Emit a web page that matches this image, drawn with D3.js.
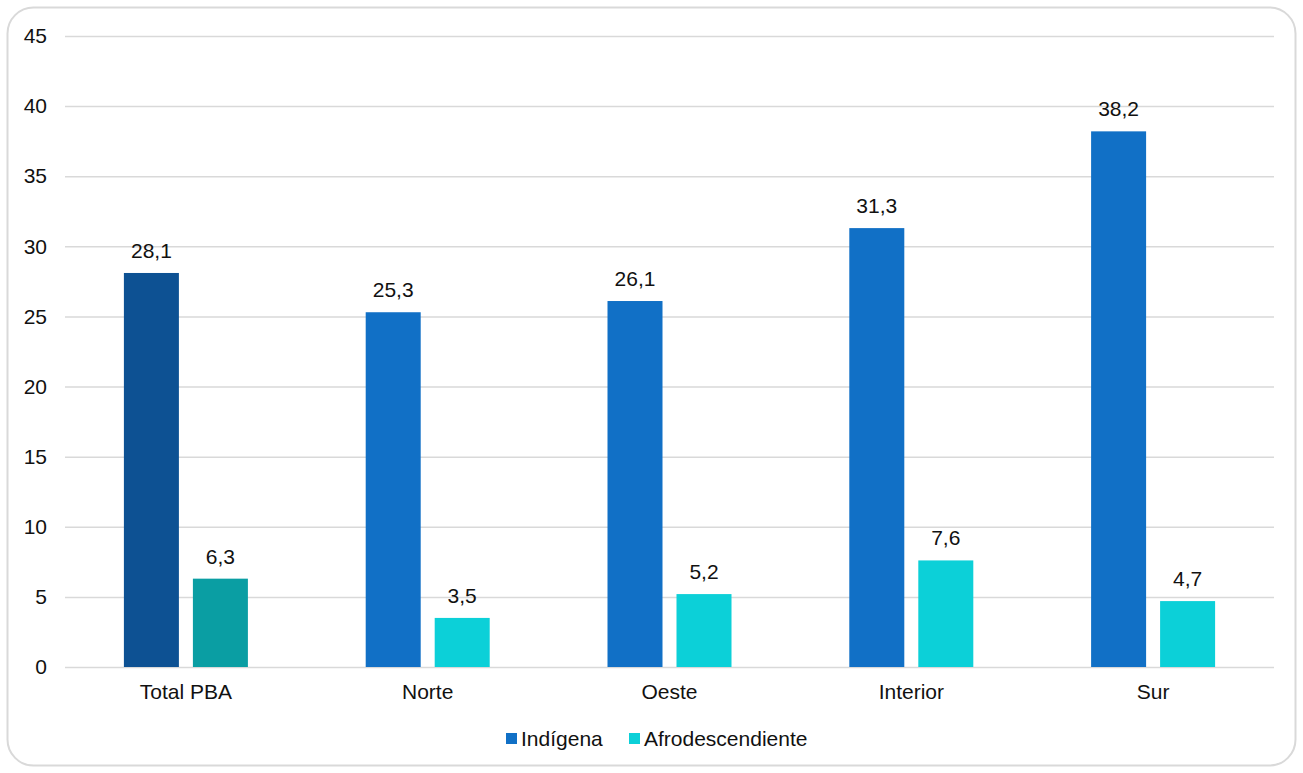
<!DOCTYPE html>
<html>
<head>
<meta charset="utf-8">
<script src="https://cdn.jsdelivr.net/npm/d3@7"></script>
<style>
  html, body { margin: 0; padding: 0; background: #fff; }
  svg text { font-family: "Liberation Sans", Arial, sans-serif; fill: #111; }
</style>
</head>
<body>
<svg id="chart" width="1303" height="773"></svg>
<script>
// Regions and the share for each population group
const categories = ["Total PBA", "Norte", "Oeste", "Interior", "Sur"];
const indigena = [28.1, 25.3, 26.1, 31.3, 38.2];
const afro = [6.3, 3.5, 5.2, 7.6, 4.7];
const seriesNames = ["Indígena", "Afrodescendiente"];
const yTicks = [0, 5, 10, 15, 20, 25, 30, 35, 40, 45];

const colors = {
  indigena: "#1170c6",
  afro: "#0cd0d8",
  indigenaTotal: "#0d5193",
  afroTotal: "#0a9ea3"
};

const FONT = "\"Liberation Sans\", Arial, sans-serif";
const FS = "21px";

const svg = d3.select("#chart");
const W = 1303, H = 773;
const margin = { left: 65, right: 29, top: 36, bottom: 106 };

// Rounded card frame
svg.append("rect")
  .attr("x", 7.5).attr("y", 7.5)
  .attr("width", W - 15).attr("height", H - 15)
  .attr("rx", 26).attr("ry", 26)
  .attr("fill", "#fff").attr("stroke", "#d9d9d9").attr("stroke-width", 2);

const x = d3.scaleBand().domain(categories)
  .range([margin.left, W - margin.right]).paddingInner(0).paddingOuter(0);
const y = d3.scaleLinear().domain([0, 45]).range([H - margin.bottom, margin.top]);

// Gridlines and y-axis labels
const yAxis = d3.axisLeft(y).tickValues(yTicks).tickSize(0).tickPadding(0).tickFormat(d3.format("d"));
const gy = svg.append("g").attr("transform", `translate(${margin.left},0)`).call(yAxis);
gy.select(".domain").remove();
gy.selectAll(".tick line").remove();
gy.selectAll(".tick").append("line")
  .attr("x1", 0).attr("x2", W - margin.right - margin.left)
  .attr("stroke", "#d9d9d9").attr("stroke-width", 1.5);
gy.selectAll(".tick text")
  .attr("x", -18).attr("text-anchor", "end")
  .style("font-size", FS).style("font-family", FONT).attr("fill", "#111");

// Category axis labels
const xAxis = d3.axisBottom(x).tickSize(0).tickPadding(17);
const gx = svg.append("g").attr("transform", `translate(0,${y(0)})`).call(xAxis);
gx.select(".domain").remove();
gx.selectAll(".tick text")
  .style("font-size", FS).style("font-family", FONT).attr("fill", "#111");

// Bars within each category
const barW = 55, gap = 14;
const rows = categories.map((c, i) => ({ c, i, vals: [indigena[i], afro[i]] }));

const groups = svg.append("g").selectAll("g").data(rows).join("g")
  .attr("transform", d => `translate(${x(d.c) + x.bandwidth() / 2 - (barW * 2 + gap) / 2},0)`);

groups.selectAll("rect").data(d => d.vals.map((v, k) => ({ v, k, i: d.i }))).join("rect")
  .attr("x", d => d.k * (barW + gap))
  .attr("width", barW)
  .attr("y", d => y(d.v))
  .attr("height", d => y(0) - y(d.v))
  .attr("fill", d => d.i === 0 ? (d.k === 0 ? colors.indigenaTotal : colors.afroTotal)
                                : (d.k === 0 ? colors.indigena : colors.afro));

// Value labels above each bar
const fmt = v => d3.format(".1f")(v).replace(".", ",");
groups.selectAll("text.val").data(d => d.vals.map((v, k) => ({ v, k }))).join("text")
  .attr("class", "val")
  .attr("x", d => d.k * (barW + gap) + barW / 2)
  .attr("y", d => y(d.v) - 15)
  .attr("text-anchor", "middle")
  .style("font-size", FS)
  .text(d => fmt(d.v));

// Legend
const legendItems = [
  { name: seriesNames[0], color: colors.indigena, x: 506 },
  { name: seriesNames[1], color: colors.afro, x: 629 }
];
const lg = svg.append("g").selectAll("g").data(legendItems).join("g")
  .attr("transform", d => `translate(${d.x},733)`);
lg.append("rect").attr("width", 11).attr("height", 11).attr("fill", d => d.color);
lg.append("text").attr("x", 15).attr("y", 13).style("font-size", FS).text(d => d.name);
</script>
</body>
</html>
